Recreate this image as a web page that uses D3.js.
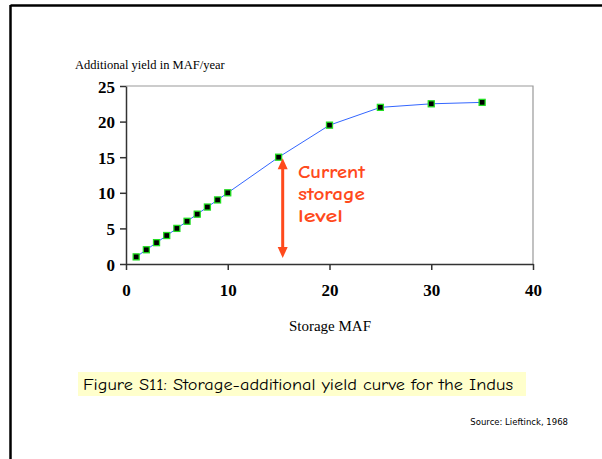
<!DOCTYPE html>
<html><head><meta charset="utf-8">
<script src="https://cdn.jsdelivr.net/npm/d3@7"></script>
<style>body{margin:0;background:#fff}svg{display:block}</style>
</head><body>
<svg id="c" width="602" height="459"></svg>
<script>
const storage = [1,2,3,4,5,6,7,8,9,10,15,20,25,30,35];
const yieldVals = [1,2,3,4,5,6,7,8,9,10,15,19.5,22,22.5,22.7];
const xTicks = [0,10,20,30,40];
const yTicks = [0,5,10,15,20,25];
const currentStorage = 15.4;
const annotationLines = ["Current","storage","level"];

const svg = d3.select("#c");
svg.append("line").attr("x1",10.5).attr("x2",602).attr("y1",5.5).attr("y2",5.5).attr("stroke","#000").attr("stroke-width",2.5);
svg.append("line").attr("x1",10.5).attr("x2",10.5).attr("y1",5).attr("y2",459).attr("stroke","#000").attr("stroke-width",2.5);

const x = d3.scaleLinear().domain([0,40]).range([126,533]);
const y = d3.scaleLinear().domain([0,25]).range([264,86]);

svg.append("path").attr("d",`M${x(0)},${y(25)}H${x(40)}V${y(0)}`).attr("fill","none").attr("stroke","#999").attr("stroke-width",1.2);

const xa = svg.append("g").attr("transform",`translate(0,${y(0)})`)
  .call(d3.axisBottom(x).tickValues(xTicks).tickSize(6).tickSizeOuter(0).tickPadding(14));
const ya = svg.append("g").attr("transform",`translate(${x(0)},0)`)
  .call(d3.axisLeft(y).tickValues(yTicks).tickSize(6).tickSizeOuter(0).tickPadding(5));
[xa,ya].forEach(a=>{
  a.selectAll("path,line").attr("stroke","#333").attr("stroke-width",1.5);
  a.selectAll("text").attr("font-family","Liberation Serif, serif").attr("font-weight","bold").attr("font-size",17).attr("fill","#000");
});
ya.selectAll("text").attr("dy","0.36em");

svg.append("path").datum(storage.map((s,i)=>[s,yieldVals[i]]))
  .attr("d",d3.line().x(d=>x(d[0])).y(d=>y(d[1])))
  .attr("fill","none").attr("stroke","#3366ff").attr("stroke-width",1);
svg.selectAll("rect.m").data(storage).join("rect").attr("class","m")
  .attr("x",(d)=>x(d)-3).attr("y",(d,i)=>y(yieldVals[i])-3)
  .attr("width",6).attr("height",6).attr("fill","#000").attr("stroke","#22dd22").attr("stroke-width",1.3);

const red = "#ff4a1c";
const ax = x(currentStorage);
svg.append("line").attr("x1",ax).attr("x2",ax).attr("y1",y(15)+10).attr("y2",y(0)-15).attr("stroke",red).attr("stroke-width",3);
svg.append("path").attr("d",`M${ax-5},${y(15)+12}L${ax},${y(15)+1}L${ax+5},${y(15)+12}Z`).attr("fill",red);
svg.append("path").attr("d",`M${ax-5},${y(0)-17}L${ax},${y(0)-6}L${ax+5},${y(0)-17}Z`).attr("fill",red);
const ann = svg.append("text").attr("fill",red)
  .attr("font-family","Comic Sans MS, Comic Neue, DejaVu Sans, sans-serif").attr("font-size",19).attr("font-weight","bold");
const annW = [67,67,45];
ann.selectAll("tspan").data(annotationLines).join("tspan")
  .attr("x",298).attr("y",(d,i)=>178+i*22).attr("textLength",(d,i)=>annW[i]).attr("lengthAdjust","spacingAndGlyphs").text(d=>d);

svg.append("text").attr("x",75).attr("y",69).attr("font-family","Liberation Serif, serif").attr("font-size",12.5).text("Additional yield in MAF/year");
svg.append("text").attr("x",330).attr("y",331).attr("text-anchor","middle").attr("font-family","Liberation Serif, serif").attr("font-size",15).text("Storage MAF");

svg.append("rect").attr("x",78).attr("y",372).attr("width",448).attr("height",24).attr("fill","#ffffcc");
svg.append("text").attr("x",83).attr("y",390).attr("font-family","Comic Sans MS, Comic Neue, DejaVu Sans, sans-serif").attr("font-size",16.5)
  .attr("textLength",430).attr("lengthAdjust","spacingAndGlyphs").text("Figure S11: Storage-additional yield curve for the Indus");
svg.append("text").attr("x",568).attr("y",425).attr("text-anchor","end").attr("font-family","Comic Sans MS, DejaVu Sans, sans-serif").attr("font-size",8.5).text("Source: Lieftinck, 1968");
</script>
</body></html>
